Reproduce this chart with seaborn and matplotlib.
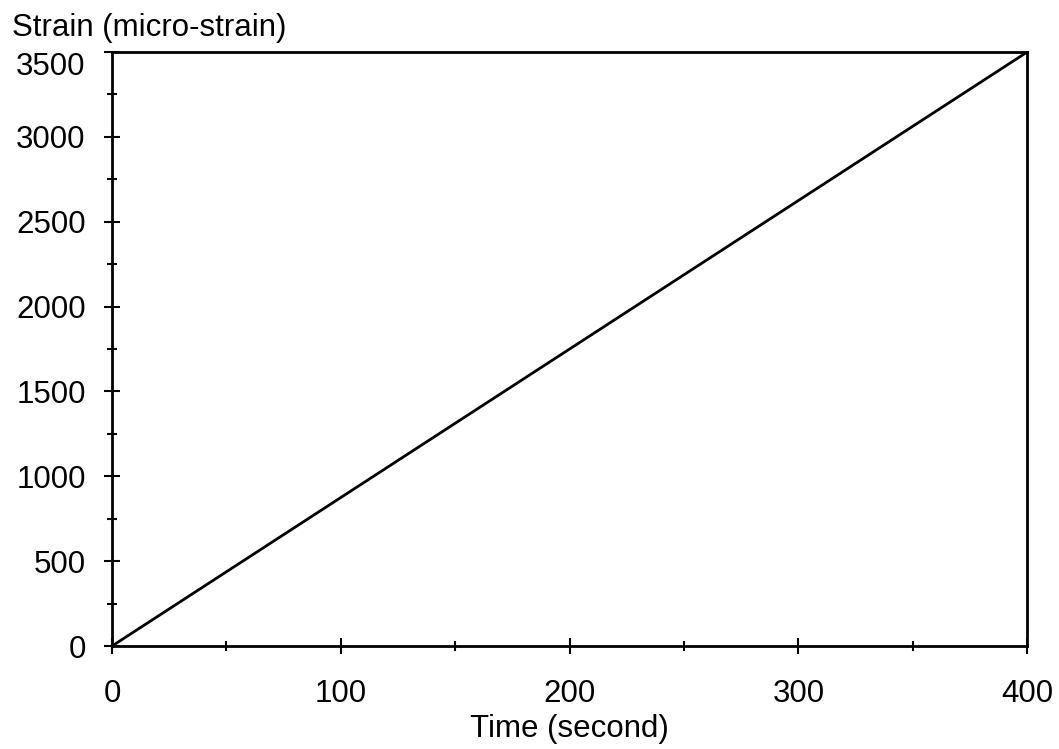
import matplotlib.pyplot as plt
import numpy as np
import pandas as pd
import seaborn as sns
from matplotlib.ticker import MultipleLocator

# datos
tiempo = [0, 400]
deformacion = [0, 3500]

df = pd.DataFrame({"tiempo": tiempo, "deformacion": deformacion})

sns.set_style("white")
plt.rcParams['font.family'] = ['Liberation Sans', 'DejaVu Sans']
plt.rcParams['text.color'] = 'black'
plt.rcParams['xtick.color'] = 'black'
plt.rcParams['ytick.color'] = 'black'
plt.rcParams['axes.labelcolor'] = 'black'

fig = plt.figure(figsize = (10.59, 7.49), dpi = 100)
ax = fig.add_axes([0.1058, 0.1375, 0.8642, 0.7931])

sns.lineplot(data = df, x = "tiempo", y = "deformacion", ax = ax, color = "black", linewidth = 2)

ax.set_xlim(0, 400)
ax.set_ylim(0, 3500)
ax.xaxis.set_major_locator(MultipleLocator(100))
ax.xaxis.set_minor_locator(MultipleLocator(50))
ax.yaxis.set_major_locator(MultipleLocator(500))
ax.yaxis.set_minor_locator(MultipleLocator(250))

ax.tick_params(which = 'major', direction = 'inout', length = 12, width = 1.5, labelsize = 22.5, pad = 13)
ax.tick_params(which = 'minor', direction = 'inout', length = 7, width = 1.5)
ax.tick_params(axis = 'x', which = 'major', pad = 18)
ax.tick_params(bottom = True, left = True, which = 'both')

for s in ax.spines.values():
    s.set_color('black')
    s.set_linewidth(2)

ax.set_xlabel("Time (second)", fontsize = 22.5, labelpad = 3)
ax.set_ylabel("")
fig.text(12 / 1059, 1 - 28 / 749, "Strain (micro-strain)", fontsize = 22.5, ha = 'left', va = 'center')

# la etiqueta 3500 queda algo por debajo del borde superior
fig.canvas.draw()
ax.yaxis.get_major_ticks()[-1].label1.set_verticalalignment('top')
for t in ax.yaxis.get_major_ticks():
    if t.get_loc() == 3500:
        t.label1.set_verticalalignment('top')

fig.savefig("out.png", dpi = 100)
